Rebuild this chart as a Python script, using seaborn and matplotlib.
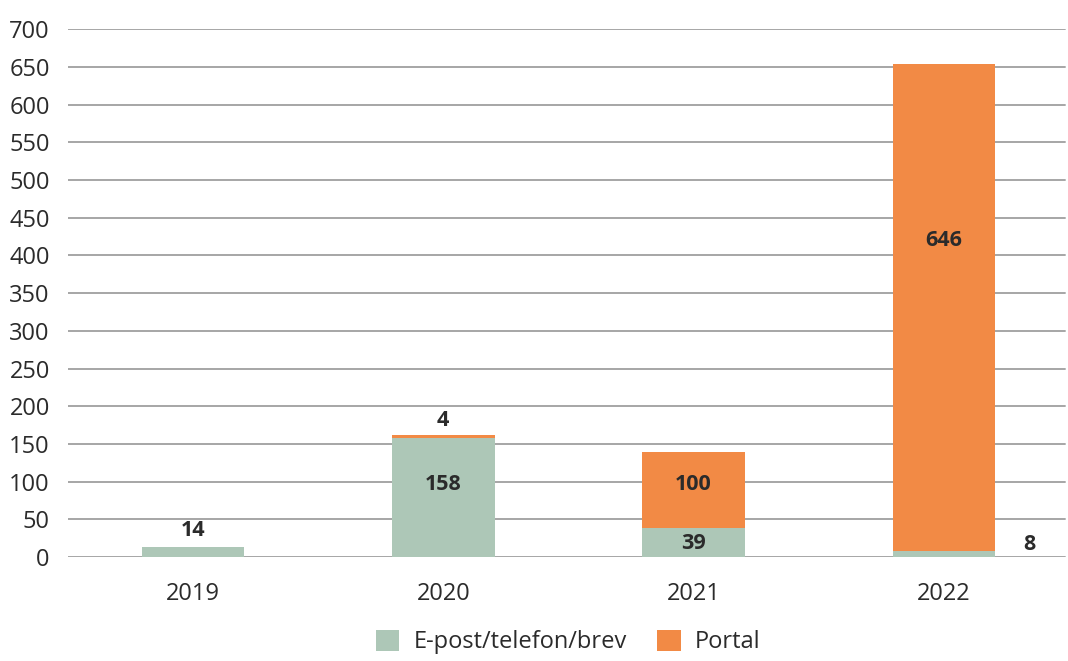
import numpy as np
import pandas as pd
import matplotlib
matplotlib.use("Agg")
import matplotlib.pyplot as plt
import seaborn as sns
from matplotlib.patches import Patch

# data
years = ["2019", "2020", "2021", "2022"]
epost = [14, 158, 39, 8]
portal = [0, 4, 100, 646]

GREEN = "#adc7b7"
ORANGE = "#f28a45"
GRID = "#a6a6a6"
TXT = "#2b2b2b"

sns.set_theme(style="white")
plt.rcParams["font.family"] = ["Open Sans", "DejaVu Sans"]
plt.rcParams["font.size"] = 17

df = pd.DataFrame({"year": years, "epost": epost, "portal": portal})
df["total"] = df["epost"] + df["portal"]

fig = plt.figure(figsize=(10.68, 6.61), dpi=100)
ax = fig.add_axes([0.0635, 0.157, 0.9375, 0.799])

ax.set_axisbelow(True)
for v in range(0, 701, 50):
    ax.axhline(v, xmax=0.996, color=GRID, lw=1.4, zorder=0)

# stacked: total (orange) behind, e-post (green) in front
sns.barplot(data=df, x="year", y="total", color=ORANGE, width=0.41,
            saturation=1, linewidth=0, ax=ax, zorder=2)
sns.barplot(data=df, x="year", y="epost", color=GREEN, width=0.41,
            saturation=1, linewidth=0, ax=ax, zorder=3)

ax.set_ylim(0, 700)
ax.set_xlim(-0.5, 3.5)
ax.set_yticks(range(0, 701, 50))
ax.set_xlabel("")
ax.set_ylabel("")
for s in ax.spines.values():
    s.set_visible(False)
ax.tick_params(axis="y", length=0, pad=13, labelsize=17, labelcolor=TXT)
ax.tick_params(axis="x", length=0, pad=18, labelsize=17, labelcolor=TXT)

# value labels
lab_kw = dict(ha="center", va="center", fontsize=15.5, fontweight="bold", color=TXT, zorder=5)
ax.text(0, df["total"][0] + 21, str(epost[0]), **lab_kw)
ax.text(1, df["total"][1] + 19, str(portal[1]), **lab_kw)
ax.text(1, 97, str(epost[1]), **lab_kw)
ax.text(2, epost[2] / 2 - 1, str(epost[2]), **lab_kw)
ax.text(2, 97, str(portal[2]), **lab_kw)
ax.text(3, 420, str(portal[3]), **lab_kw)
ax.text(3.34, 17, str(epost[3]), **lab_kw)

handles = [Patch(facecolor=GREEN, edgecolor="none", label="E-post/telefon/brev"),
           Patch(facecolor=ORANGE, edgecolor="none", label="Portal")]
fig.legend(handles=handles, loc="lower center", bbox_to_anchor=(0.532, -0.022),
           ncol=2, frameon=False, fontsize=17, handlelength=1.0, handleheight=1.0,
           handletextpad=0.6, columnspacing=1.3, labelcolor=TXT)

fig.savefig("out.png", dpi=100)
